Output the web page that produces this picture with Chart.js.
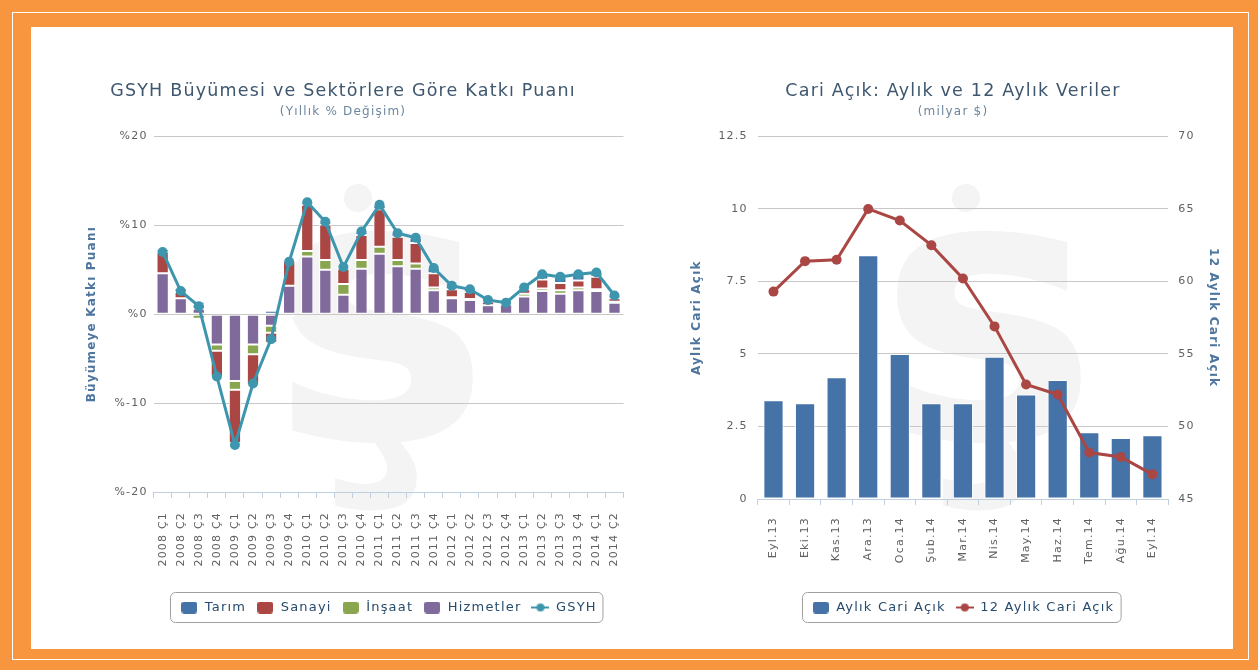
<!DOCTYPE html>
<html lang="tr">
<head>
<meta charset="UTF-8">
<title>GSYH Büyümesi ve Cari Açık</title>
<script src="https://cdn.jsdelivr.net/npm/chart.js"></script>
<style>
  body {
    margin: 0;
    width: 1258px;
    height: 670px;
    background: #F7963F;
    position: relative;
    overflow: hidden;
    font-family: 'DejaVu Sans', sans-serif;
  }
  .frame {
    position: absolute;
    left: 12px; top: 12px; width: 1235px; height: 646px;
    border: 1px solid #fff;
  }
  .panel {
    position: absolute;
    left: 31px; top: 27px; width: 1202px; height: 622px;
    background: #fff;
  }
  /* faint logo watermark behind each chart */
  .mark {
    position: absolute;
    font: bold 370px/1 'DejaVu Sans', sans-serif;
    color: #F4F4F4;
  }
  .dot {
    position: absolute;
    width: 28px; height: 28px;
    border-radius: 50%;
    background: #F4F4F4;
  }
  .chart-box { position: absolute; top: 72px; height: 568px; }
  #leftBox { left: 50px; width: 592px; }
  #rightBox { left: 668px; width: 570px; }
</style>
</head>
<body>
  <div class="frame"></div>
  <div class="panel"></div>
  <div class="mark" style="left:270px; top:125px;">ş</div>
  <div class="dot" style="left:344px; top:184px;"></div>
  <div class="mark" style="left:878px; top:125px;">ş</div>
  <div class="dot" style="left:952px; top:184px;"></div>
  <div class="chart-box" id="leftBox"><canvas id="gdpChart"></canvas></div>
  <div class="chart-box" id="rightBox"><canvas id="caChart"></canvas></div>

<script>
  // --- GSYH chart data (katkı puanı, %)
  const quarters = ['2008 Ç1','2008 Ç2','2008 Ç3','2008 Ç4','2009 Ç1','2009 Ç2','2009 Ç3','2009 Ç4',
    '2010 Ç1','2010 Ç2','2010 Ç3','2010 Ç4','2011 Ç1','2011 Ç2','2011 Ç3','2011 Ç4',
    '2012 Ç1','2012 Ç2','2012 Ç3','2012 Ç4','2013 Ç1','2013 Ç2','2013 Ç3','2013 Ç4','2014 Ç1','2014 Ç2'];
  const tarim     = [0.3, 0.4, 0.3, 0.0, -0.2, 0.1, 0.4, 0.2, 0.3, 0.3, 0.2, 0.4, 0.5, 0.4, 0.6, 0.6, 0.4, 0.3, 0.2, 0.1, 0.2, 0.6, 0.7, 0.7, 0.5, 0.3];
  const sanayi    = [2.4, 0.7, 0.5, -2.9, -6.0, -3.4, -1.1, 2.8, 5.2, 4.0, 1.7, 2.8, 4.2, 2.6, 2.3, 1.6, 0.9, 0.8, 0.4, 0.1, 0.5, 1.0, 0.8, 0.8, 1.4, 0.4];
  const insaat    = [-0.3, -0.3, -0.5, -0.7, -1.0, -1.1, -0.8, -0.3, 0.6, 1.1, 1.2, 1.0, 0.8, 0.7, 0.6, 0.3, 0.1, 0.1, 0.0, 0.0, 0.3, 0.3, 0.4, 0.3, 0.2, 0.1];
  const hizmetler = [4.6, 1.8, 0.6, -3.4, -7.5, -3.4, -1.3, 3.2, 6.5, 5.0, 2.2, 5.1, 6.8, 5.4, 5.1, 2.7, 1.8, 1.6, 1.0, 1.1, 2.0, 2.6, 2.3, 2.7, 2.6, 1.3];
  const gsyh      = [7.0, 2.6, 0.9, -7.0, -14.7, -7.8, -2.8, 5.9, 12.6, 10.4, 5.3, 9.3, 12.3, 9.1, 8.6, 5.2, 3.2, 2.8, 1.6, 1.3, 3.0, 4.5, 4.2, 4.5, 4.7, 2.1];
  const gdpTicks  = [-20, -10, 0, 10, 20];

  // --- Cari açık data (milyar $)
  const months  = ['Eyl.13','Eki.13','Kas.13','Ara.13','Oca.14','Şub.14','Mar.14','Nis.14','May.14','Haz.14','Tem.14','Ağu.14','Eyl.14'];
  const aylik   = [3.4, 3.3, 4.2, 8.4, 5.0, 3.3, 3.3, 4.9, 3.6, 4.1, 2.3, 2.1, 2.2];
  const yillik  = [59.3, 61.4, 61.5, 65.0, 64.2, 62.5, 60.2, 56.9, 52.9, 52.2, 48.2, 47.9, 46.7];

  const BLUE = '#4572A7', RED = '#AA4643', GREEN = '#89A54E', PURPLE = '#80699B', TEAL = '#3D96AE';
  const TICK_COLOR = '#606060', AXIS_TITLE = '#4D759E', GRID = '#C8C8C8', AXIS_LINE = '#C0D0E0';

  Chart.defaults.font.family = "'DejaVu Sans', sans-serif";
  Chart.defaults.color = TICK_COLOR;
  Chart.defaults.animation = false;
  Chart.defaults.plugins.tooltip.enabled = false;

  // the original text is set a little wider than DejaVu
  const spacing = {
    id: 'spacing',
    beforeUpdate(chart) { chart.ctx.letterSpacing = '1.2px'; },
    beforeDraw(chart) { chart.ctx.letterSpacing = '1.2px'; }
  };

  // legend symbols like the original (rounded square / line with dot)
  function boxSymbol(color) {
    const c = document.createElement('canvas');
    c.width = 16; c.height = 12;
    const x = c.getContext('2d');
    x.fillStyle = color;
    x.beginPath();
    x.roundRect(0, 0, 16, 12, 3);
    x.fill();
    return c;
  }
  function lineSymbol(color) {
    const c = document.createElement('canvas');
    c.width = 18; c.height = 12;
    const x = c.getContext('2d');
    x.strokeStyle = color;
    x.fillStyle = color;
    x.lineWidth = 2;
    x.beginPath(); x.moveTo(0, 6); x.lineTo(18, 6); x.stroke();
    x.beginPath(); x.arc(9, 6, 4, 0, Math.PI * 2); x.fill();
    return c;
  }

  // rounded frame round the legend items
  const legendBox = {
    id: 'legendBox',
    afterDraw(chart) {
      const boxes = chart.legend.legendHitBoxes;
      if (!boxes || !boxes.length) return;
      let l = Infinity, r = -Infinity, t = Infinity, b = -Infinity;
      boxes.forEach(h => {
        l = Math.min(l, h.left); r = Math.max(r, h.left + h.width);
        t = Math.min(t, h.top); b = Math.max(b, h.top + h.height);
      });
      const ctx = chart.ctx;
      ctx.save();
      ctx.strokeStyle = '#A0A0A0';
      ctx.lineWidth = 1;
      ctx.beginPath();
      ctx.roundRect(Math.round(l) - 9.5, Math.round(t) - 8.5, r - l + 16, b - t + 17, 5);
      ctx.stroke();
      ctx.restore();
    }
  };

  function legendOptions(symbols, rank) {
    return {
      position: 'bottom',
      fullSize: false,
      labels: {
        usePointStyle: true,
        pointStyleWidth: 18,
        color: '#274B6D',
        font: { size: 13 },
        padding: 10,
        generateLabels(chart) {
          return Chart.defaults.plugins.legend.labels.generateLabels(chart).map(item => {
            item.pointStyle = symbols[item.datasetIndex];
            return item;
          });
        },
        sort: (a, b) => rank[a.datasetIndex] - rank[b.datasetIndex]
      }
    };
  }

  function titleOpts(text) {
    return { display: true, text, color: '#3E576F', font: { size: 17.5, weight: 'normal' }, padding: { top: 9, bottom: 0 } };
  }
  function subtitleOpts(text) {
    return { display: true, text, color: '#6D869F', font: { size: 12 }, padding: { top: 3, bottom: 17 } };
  }
  function categoryAxis(axisHeight, labelPad) {
    return {
      stacked: true,
      offset: true,
      grid: { offset: true, drawOnChartArea: false, color: AXIS_LINE, tickLength: 6 },
      border: { color: AXIS_LINE },
      ticks: { minRotation: 90, maxRotation: 90, autoSkip: false, color: TICK_COLOR, font: { size: 11 }, padding: labelPad },
      afterFit: s => { s.height = axisHeight; }
    };
  }

  // stacked order bottom-up: Hizmetler, İnşaat, Sanayi, Tarım
  new Chart(document.getElementById('gdpChart'), {
    data: {
      labels: quarters,
      datasets: [
        { type: 'bar', label: 'Hizmetler', data: hizmetler, backgroundColor: PURPLE, stack: 's', order: 1 },
        { type: 'bar', label: 'İnşaat', data: insaat, backgroundColor: GREEN, stack: 's', order: 1 },
        { type: 'bar', label: 'Sanayi', data: sanayi, backgroundColor: RED, stack: 's', order: 1 },
        { type: 'bar', label: 'Tarım', data: tarim, backgroundColor: BLUE, stack: 's', order: 1 },
        { type: 'line', label: 'GSYH', data: gsyh, borderColor: TEAL, backgroundColor: TEAL, borderWidth: 3,
          pointRadius: 5, pointBackgroundColor: TEAL, pointBorderWidth: 0, stack: 'g', order: 0 }
      ].map(d => d.type === 'bar'
        ? Object.assign(d, { borderColor: '#fff', borderWidth: 1, borderSkipped: false, barPercentage: 0.68, categoryPercentage: 1 })
        : d)
    },
    options: {
      responsive: true,
      maintainAspectRatio: false,
      layout: { padding: { left: 10, right: 16, top: 0, bottom: 16 } },
      plugins: {
        title: titleOpts('GSYH Büyümesi ve Sektörlere Göre Katkı Puanı'),
        subtitle: subtitleOpts('(Yıllık % Değişim)'),
        legend: legendOptions([boxSymbol(PURPLE), boxSymbol(GREEN), boxSymbol(RED), boxSymbol(BLUE), lineSymbol(TEAL)], [3, 2, 1, 0, 4])
      },
      scales: {
        x: categoryAxis(99, 14),
        y: {
          stacked: true,
          min: gdpTicks[0],
          max: gdpTicks[gdpTicks.length - 1],
          afterBuildTicks: s => { s.ticks = gdpTicks.map(v => ({ value: v })); },
          ticks: { callback: v => '%' + v, color: TICK_COLOR, font: { size: 11 }, padding: 6 },
          grid: { color: GRID, drawTicks: false },
          border: { display: false },
          title: { display: true, text: 'Büyümeye Katkı Puanı', color: AXIS_TITLE, font: { size: 12, weight: 'bold' }, padding: { top: 25, bottom: 9 } }
        }
      }
    },
    plugins: [spacing, legendBox]
  });

  new Chart(document.getElementById('caChart'), {
    data: {
      labels: months,
      datasets: [
        { type: 'bar', label: 'Aylık Cari Açık', data: aylik, backgroundColor: BLUE, borderColor: '#fff', borderWidth: 1,
          borderSkipped: false, barPercentage: 0.64, categoryPercentage: 1, yAxisID: 'y', order: 1 },
        { type: 'line', label: '12 Aylık Cari Açık', data: yillik, borderColor: RED, backgroundColor: RED, borderWidth: 3,
          pointRadius: 5, pointBackgroundColor: RED, pointBorderWidth: 0, yAxisID: 'y1', order: 0 }
      ]
    },
    options: {
      responsive: true,
      maintainAspectRatio: false,
      layout: { padding: { left: 10, right: 10, top: 0, bottom: 16 } },
      plugins: {
        title: titleOpts('Cari Açık: Aylık ve 12 Aylık Veriler'),
        subtitle: subtitleOpts('(milyar $)'),
        legend: legendOptions([boxSymbol(BLUE), lineSymbol(RED)], [0, 1])
      },
      scales: {
        x: categoryAxis(92, 12),
        y: {
          position: 'left',
          min: 0, max: 12.5,
          ticks: { stepSize: 2.5, color: TICK_COLOR, font: { size: 11 }, padding: 10 },
          grid: { color: GRID, drawTicks: false },
          border: { display: false },
          title: { display: true, text: 'Aylık Cari Açık', color: AXIS_TITLE, font: { size: 12, weight: 'bold' }, padding: { top: 12, bottom: 4 } }
        },
        y1: {
          position: 'right',
          min: 45, max: 70,
          ticks: { stepSize: 5, color: TICK_COLOR, font: { size: 11 }, padding: 10 },
          grid: { drawOnChartArea: false, drawTicks: false },
          border: { display: false },
          title: { display: true, text: '12 Aylık Cari Açık', color: AXIS_TITLE, font: { size: 12, weight: 'bold' }, padding: { top: 8, bottom: 1 } }
        }
      }
    },
    plugins: [spacing, legendBox]
  });
</script>
</body>
</html>
